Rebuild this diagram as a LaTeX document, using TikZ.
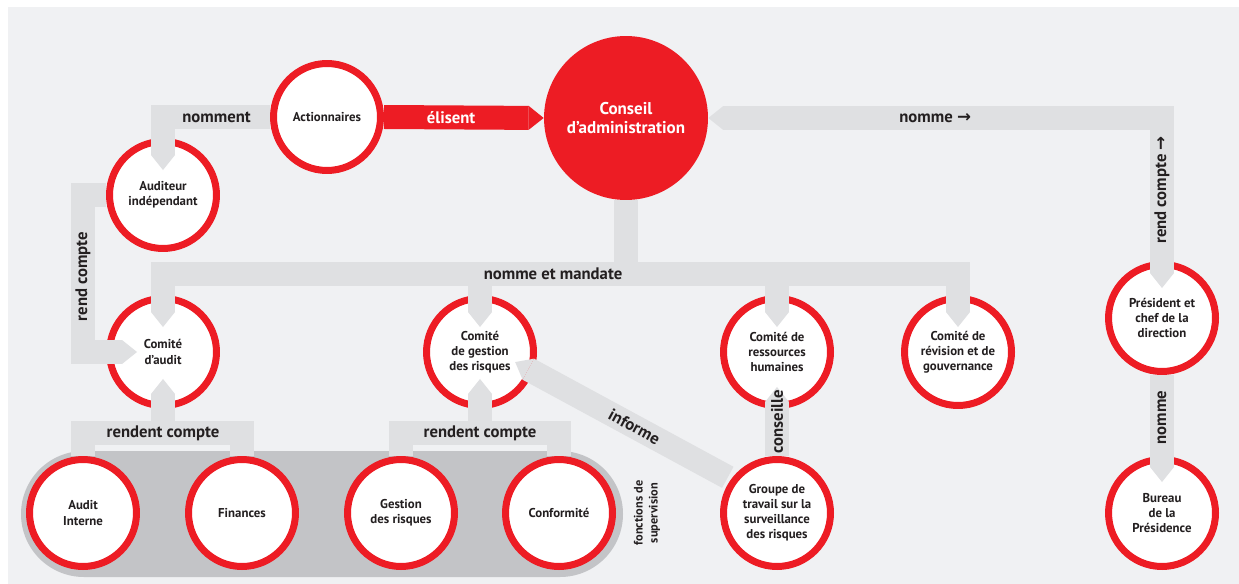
\documentclass[tikz,border=0pt]{standalone}
\usepackage{fontspec}
\setmainfont{PT Sans}
\newfontfamily\flechefont{DejaVu Sans}
\usetikzlibrary{arrows.meta}

\definecolor{rouge}{HTML}{ED1C24}
\definecolor{fond}{HTML}{F0F1F3}
\definecolor{bande}{HTML}{DFE0E2}
\definecolor{superv}{HTML}{C3C4C7}
\definecolor{texte}{HTML}{231F20}

\tikzset{
  pointe/.tip={Triangle[width=0.48cm,length=0.3cm,line width=0pt]},
  organe/.style={circle, draw=rouge, line width=0.14cm, fill=white, minimum size=2.14cm,
    inner sep=0pt, align=center, text=texte, font=\fontsize{7.3}{8.6}\selectfont\bfseries},
  conseil/.style={circle, fill=rouge, minimum size=3.28cm, inner sep=0pt, align=center,
    text=white, font=\fontsize{9.7}{11.3}\selectfont\bfseries},
  lien/.style={draw=bande, line width=0.48cm},
  fleche/.style={-pointe},
  lbl/.style={font=\fontsize{9.5}{11}\selectfont\bfseries, text=texte, inner sep=0pt},
}

\begin{document}
\begin{tikzpicture}[x=0.02cm,y=-0.02cm]
  \useasboundingbox (0,0) rectangle (1239,584);
  \fill[fond] (8,7) rectangle (1239,584);
  % bande des fonctions de supervision
  \fill[superv, rounded corners=1.26cm] (21,451) rectangle (623,577);

  % organes
  \node[organe] (act) at (327,117) {Actionnaires};
  \node[organe] (aud) at (163,195) {Auditeur\\indépendant};
  \node[conseil] (ca) at (626,118) {Conseil\\d’administration};
  \node[organe] (cau) at (163,352) {Comité\\d’audit};
  \node[organe] (cgr) at (480,352) {Comité\\de gestion\\des risques};
  \node[organe] (crh) at (777,352) {Comité de\\ressources\\humaines};
  \node[organe] (crev) at (958,352) {Comité de\\révision et de\\gouvernance};
  \node[organe] (pdg) at (1162,318) {Président et\\chef de la\\direction};
  \node[organe] (bur) at (1162,513) {Bureau\\de la\\Présidence};
  \node[organe] (ai) at (83,513) {Audit\\Interne};
  \node[organe] (fin) at (242,513) {Finances};
  \node[organe] (gdr) at (401,513) {Gestion\\des risques};
  \node[organe] (conf) at (559,513) {Conformité};
  \node[organe] (gt) at (777,513) {Groupe de\\travail sur la\\surveillance\\des risques};
  \node[text=texte, align=center, rotate=90, inner sep=0pt,
    font=\fontsize{7}{8.5}\selectfont\bfseries] (fs) at (647,513) {fonctions de\\supervision};

  % liens
  \draw[lien, fleche, shorten >=0.5cm] (act.west) -| node[lbl, pos=0.25] {nomment} (aud.center);
  \draw[lien, draw=rouge, fleche] (act.east) -- node[lbl, text=white, pos=0.42] {élisent} (ca.west);
  \draw[lien, pointe-pointe, shorten >=0.6cm] (ca.east)
    -| node[lbl, pos=0.25] {nomme {\flechefont →}}
       node[lbl, pos=0.68, rotate=90] {rend compte {\flechefont →}} (pdg.center);
  \draw[lien, fleche, shorten >=0.52cm] (aud.west)
    -| node[lbl, pos=0.76, rotate=90] {rend compte} (ai |- cau) -- (cau.center);

  \coordinate (nm) at (626,274);
  \draw[lien] (ca.south) -- (nm);
  \draw[lien, fleche, shorten >=0.5cm] (nm) -| (cau.center);
  \draw[lien, fleche, shorten >=0.5cm] (nm) -| node[lbl, pos=0.25] {nomme et mandate} (cgr.center);
  \draw[lien, fleche, shorten >=0.5cm] (nm) -| (crh.center);
  \draw[lien, fleche, shorten >=0.5cm] (nm) -| (crev.center);

  \coordinate (rcg) at (163,433);
  \draw[lien] (rcg) -| (ai.north);
  \draw[lien] (rcg) -| (fin.north);
  \draw[lien, fleche, shorten >=0.54cm] (rcg) -- (cau.center);
  \node[lbl] (rcgt) at (rcg) {rendent compte};

  \coordinate (rcd) at (480,433);
  \draw[lien] (rcd) -| (gdr.north);
  \draw[lien] (rcd) -| (conf.north);
  \draw[lien, fleche, shorten >=0.54cm] (rcd) -- (cgr.center);
  \node[lbl] (rcdt) at (rcd) {rendent compte};

  \draw[lien, fleche, shorten <=1.12cm, shorten >=0.8cm] ([yshift=0.18cm]gt.center)
    -- node[lbl, pos=0.48, rotate=-28.5] {informe} ([yshift=0.18cm]cgr.center);
  \draw[lien, fleche, shorten >=0.7cm] (gt.north) -- node[lbl, pos=0.33, rotate=90] {conseille} (crh.center);
  \draw[lien, fleche, shorten >=0.62cm] (pdg.south) -- node[lbl, pos=0.31, rotate=90] {nomme} (bur.center);
\end{tikzpicture}
\end{document}
